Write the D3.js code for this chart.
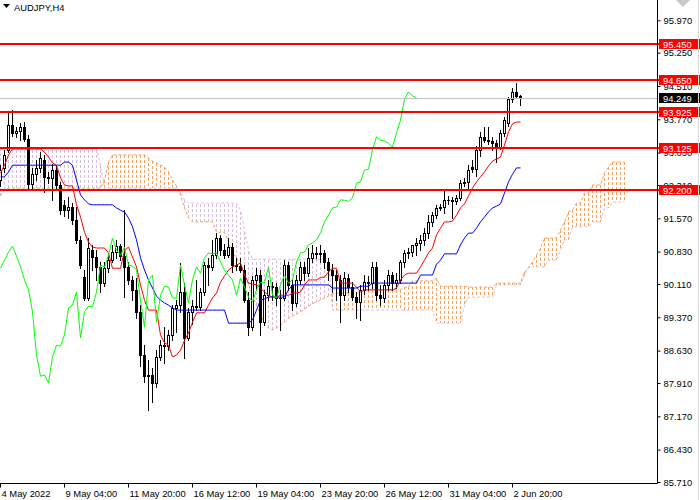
<!DOCTYPE html>
<html>
<head>
<meta charset="utf-8">
<script src="https://cdn.jsdelivr.net/npm/d3@7"></script>
<style>
body { margin: 0; background: #fff; }
svg { display: block; font-family: "Liberation Sans", Arial, sans-serif; }
</style>
</head>
<body>
<script>
// AUDJPY H4 with Ichimoku
var symbol = "AUDJPY,H4";

var openP = [
  92.42, 92.69, 93.09, 93.64, 93.47, 93.51, 93.60, 93.33, 92.33, 92.55,
  92.69, 92.87, 92.49, 92.47, 92.64, 92.31, 91.87, 91.75, 91.82, 91.53,
  91.09, 90.26, 89.80, 90.86, 90.71, 90.49, 90.13, 90.46, 90.64, 90.82,
  90.95, 90.73, 90.49, 90.20, 89.98, 89.49, 88.53, 88.06, 88.09, 87.91,
  88.49, 88.75, 88.73, 88.98, 89.58, 89.64, 89.93, 88.91, 89.49, 89.62,
  89.60, 89.93, 90.53, 90.49, 90.75, 91.13, 90.86, 90.75, 90.93, 90.53,
  90.51, 90.42, 89.75, 89.15, 90.20, 90.31, 89.26, 89.86, 90.06, 90.04,
  89.80, 89.79, 90.53, 90.09, 89.69, 90.20, 90.49, 90.35, 90.69, 90.80,
  90.78, 90.80, 90.60, 90.42, 90.31, 90.20, 89.86, 90.24, 90.04, 89.82,
  89.71, 89.98, 90.15, 90.13, 90.49, 89.86, 89.80, 90.09, 90.31, 90.13,
  90.20, 90.60, 90.80, 90.82, 90.98, 91.02, 91.09, 91.24, 91.49, 91.64,
  91.80, 91.82, 91.98, 91.97, 91.95, 92.02, 92.35, 92.38, 92.71, 92.66,
  93.09, 93.38, 93.31, 93.29, 93.24, 93.15, 93.47, 93.69, 94.22, 94.38,
  94.29
];
var highP = [
  92.75, 93.09, 93.93, 93.98, 93.60, 93.69, 93.71, 93.42, 92.69, 92.87,
  93.04, 92.98, 92.60, 92.78, 92.73, 92.38, 91.98, 92.04, 91.91, 91.82,
  91.18, 90.42, 91.13, 90.98, 90.86, 90.60, 90.60, 90.75, 90.98, 91.09,
  91.00, 91.75, 90.60, 90.29, 90.24, 89.64, 88.75, 88.42, 88.24, 88.64,
  88.86, 89.15, 89.09, 89.64, 89.75, 90.58, 90.13, 89.58, 89.75, 90.20,
  90.02, 90.60, 90.69, 91.09, 91.24, 91.20, 91.00, 91.13, 91.02, 90.69,
  90.69, 90.53, 89.93, 90.29, 90.46, 90.42, 89.98, 90.20, 90.15, 90.13,
  89.98, 90.64, 90.60, 90.20, 90.31, 90.60, 90.60, 90.91, 90.98, 90.93,
  90.98, 90.86, 90.69, 90.55, 90.42, 90.31, 90.38, 90.33, 90.15, 89.93,
  90.09, 90.31, 90.29, 90.60, 90.60, 90.09, 90.20, 90.42, 90.38, 90.35,
  90.64, 90.86, 90.91, 90.98, 91.13, 91.20, 91.35, 91.64, 91.71, 91.87,
  91.89, 92.20, 92.07, 92.04, 92.09, 92.42, 92.47, 92.75, 92.87, 93.18,
  93.49, 93.60, 93.60, 93.38, 93.31, 93.53, 93.82, 94.26, 94.47, 94.58,
  94.31
];
var lowP = [
  92.29, 92.60, 93.04, 93.40, 93.38, 93.31, 93.29, 92.24, 92.20, 92.42,
  92.60, 92.15, 92.35, 91.98, 92.24, 91.66, 91.62, 91.58, 91.44, 91.02,
  90.46, 89.75, 89.75, 90.42, 90.20, 89.93, 90.06, 90.38, 90.60, 90.69,
  90.64, 89.82, 90.11, 89.75, 89.35, 88.29, 87.93, 87.31, 87.49, 87.82,
  88.42, 88.35, 88.64, 88.86, 89.04, 89.49, 88.46, 88.86, 89.22, 89.53,
  89.53, 89.86, 90.09, 90.42, 90.69, 90.75, 90.69, 90.71, 90.38, 90.42,
  90.38, 89.71, 88.98, 89.09, 89.98, 88.98, 89.20, 89.75, 89.75, 89.64,
  89.09, 89.75, 89.98, 89.53, 89.62, 90.11, 90.20, 90.29, 90.60, 90.69,
  90.60, 90.46, 90.20, 89.93, 89.75, 89.26, 89.75, 89.93, 89.75, 89.35,
  89.31, 89.89, 89.98, 90.02, 89.75, 89.64, 89.71, 89.98, 89.98, 90.02,
  90.13, 90.49, 90.69, 90.73, 90.75, 90.86, 90.98, 91.13, 91.40, 91.58,
  91.75, 91.69, 91.89, 91.58, 91.89, 91.98, 92.29, 92.24, 92.60, 92.51,
  92.95, 93.27, 93.22, 93.09, 92.82, 93.11, 93.40, 93.62, 94.15, 94.24,
  94.09
];
var closeP = [
  92.64, 92.98, 93.64, 93.47, 93.51, 93.60, 93.33, 92.33, 92.55, 92.69,
  92.91, 92.49, 92.47, 92.64, 92.31, 91.75, 91.75, 91.82, 91.53, 91.09,
  90.53, 89.80, 90.91, 90.71, 90.49, 90.13, 90.46, 90.64, 90.82, 90.95,
  90.73, 90.49, 90.20, 89.98, 89.49, 88.53, 88.06, 88.09, 87.91, 88.49,
  88.75, 88.73, 88.98, 89.58, 89.64, 89.93, 88.91, 89.49, 89.62, 89.60,
  89.93, 90.53, 90.49, 90.75, 91.13, 90.86, 90.75, 90.93, 90.53, 90.51,
  90.42, 89.75, 89.15, 90.20, 90.31, 89.26, 89.86, 90.06, 90.04, 89.80,
  89.79, 90.53, 90.09, 89.69, 90.20, 90.49, 90.35, 90.69, 90.80, 90.78,
  90.80, 90.60, 90.42, 90.31, 90.20, 89.86, 90.24, 90.04, 89.82, 89.71,
  89.98, 90.15, 90.13, 90.49, 89.86, 89.80, 90.09, 90.31, 90.13, 90.20,
  90.60, 90.80, 90.82, 90.98, 91.02, 91.09, 91.24, 91.49, 91.64, 91.80,
  91.82, 91.98, 91.97, 91.95, 92.02, 92.35, 92.38, 92.64, 92.66, 93.09,
  93.38, 93.31, 93.29, 93.24, 93.15, 93.47, 93.75, 94.22, 94.38, 94.29,
  94.249
];

var tenkan = [
  92.58, 92.75, 92.98, 93.11, 93.11, 93.11, 93.11, 93.11, 93.11, 93.11,
  93.11, 93.04, 92.93, 92.80, 92.75, 92.47, 92.31, 92.29, 92.29, 91.87,
  91.60, 91.26, 91.04, 90.93, 90.91, 90.91, 90.91, 90.80, 90.46, 90.46,
  90.46, 90.86, 90.93, 90.71, 90.49, 90.09, 89.75, 89.53, 89.53, 89.53,
  88.98, 88.80, 88.75, 88.49, 88.53, 88.64, 88.86, 89.02, 89.26, 89.47,
  89.47, 89.47, 89.64, 89.80, 89.91, 90.15, 90.29, 90.42, 90.49, 90.53,
  90.58, 90.31, 90.13, 90.11, 90.09, 90.02, 89.93, 89.86, 89.82, 89.82,
  89.86, 89.86, 89.86, 89.91, 89.91, 89.93, 90.09, 90.20, 90.20, 90.20,
  90.26, 90.26, 90.38, 90.46, 90.46, 90.13, 90.13, 90.13, 90.13, 90.04,
  89.93, 89.98, 89.98, 89.98, 89.98, 89.98, 89.98, 89.98, 89.98, 90.02,
  90.20, 90.31, 90.35, 90.35, 90.35, 90.49, 90.64, 90.80, 90.91, 91.20,
  91.35, 91.49, 91.49, 91.51, 91.64, 91.80, 91.89, 92.07, 92.24, 92.38,
  92.49, 92.60, 92.73, 92.84, 92.89, 92.93, 93.20, 93.49, 93.67, 93.71,
  93.71
];
var kijun = [
  92.49, 92.49, 92.60, 92.75, 92.75, 92.75, 92.75, 92.75, 92.75, 92.75,
  92.75, 92.75, 92.75, 92.75, 92.75, 92.75, 92.82, 92.82, 92.75, 92.42,
  92.09, 91.98, 91.89, 91.87, 91.87, 91.87, 91.87, 91.87, 91.87, 91.80,
  91.75, 91.71, 91.58, 91.38, 91.09, 90.69, 90.42, 90.20, 90.02, 89.84,
  89.75, 89.69, 89.64, 89.58, 89.53, 89.53, 89.53, 89.53, 89.53, 89.53,
  89.53, 89.53, 89.53, 89.53, 89.53, 89.53, 89.53, 89.24, 89.24, 89.24,
  89.24, 89.24, 89.24, 89.31, 89.53, 89.75, 89.78, 89.82, 89.82, 89.82,
  89.82, 89.82, 89.98, 90.09, 90.09, 90.09, 90.09, 90.09, 90.09, 90.09,
  90.09, 90.09, 90.09, 90.02, 90.02, 90.02, 90.02, 90.02, 90.02, 90.02,
  90.06, 90.06, 90.06, 90.13, 90.13, 90.13, 90.13, 90.13, 90.13, 90.13,
  90.13, 90.13, 90.13, 90.13, 90.13, 90.31, 90.31, 90.31, 90.31, 90.55,
  90.64, 90.78, 90.78, 90.78, 90.78, 90.98, 91.13, 91.24, 91.24, 91.35,
  91.49, 91.60, 91.71, 91.80, 91.84, 91.89, 92.13, 92.38, 92.55, 92.69,
  92.69
];
// senkou spans, already shifted 26 bars forward (157 values)
var spanA = [
  92.07, 92.20, 92.24, 92.24, 92.24, 92.24, 92.24, 92.24, 92.24, 92.24,
  92.24, 92.24, 92.24, 92.24, 92.24, 92.24, 92.24, 92.24, 92.24, 92.24,
  92.24, 92.24, 92.24, 92.24, 92.24, 92.24, 92.42, 92.82, 92.98, 92.98,
  92.98, 92.98, 92.98, 92.98, 92.98, 92.98, 92.98, 92.91, 92.84, 92.80,
  92.75, 92.71, 92.60, 92.42, 92.29, 92.09, 91.80, 91.58, 91.49, 91.49,
  91.49, 91.49, 91.49, 91.49, 91.26, 91.26, 91.26, 91.04, 90.82, 90.69,
  90.53, 90.31, 90.09, 89.86, 89.64, 89.42, 89.26, 89.13, 89.09, 89.13,
  89.20, 89.26, 89.35, 89.40, 89.44, 89.49, 89.55, 89.62, 89.67, 89.71,
  89.75, 89.80, 89.84, 89.89, 89.91, 89.91, 89.91, 89.91, 89.91, 89.91,
  89.91, 89.98, 89.98, 89.98, 89.98, 89.98, 89.98, 89.98, 89.98, 89.98,
  89.98, 90.04, 90.04, 90.18, 90.18, 90.18, 90.18, 90.18, 90.18, 90.24,
  90.06, 90.06, 90.06, 90.06, 90.06, 90.06, 90.06, 90.04, 90.04, 90.04,
  90.04, 90.04, 90.04, 90.04, 90.13, 90.13, 90.13, 90.13, 90.13, 90.13,
  90.13, 90.38, 90.46, 90.60, 90.75, 90.91, 91.13, 91.13, 91.13, 91.13,
  91.31, 91.49, 91.71, 91.75, 91.91, 91.91, 92.13, 92.13, 92.31, 92.31,
  92.31, 92.58, 92.71, 92.82, 92.82, 92.82, 92.82
];
var spanB = [
  93.11, 93.11, 93.11, 93.11, 93.11, 93.11, 93.11, 93.11, 93.11, 93.11,
  93.11, 93.11, 93.11, 93.11, 93.11, 93.11, 93.11, 93.11, 93.11, 93.11,
  93.11, 93.11, 93.11, 93.11, 93.11, 92.75, 92.24, 92.24, 92.24, 92.24,
  92.24, 92.24, 92.24, 92.24, 92.24, 92.24, 92.24, 92.24, 92.24, 92.24,
  92.24, 92.24, 92.24, 92.24, 92.24, 92.15, 91.98, 91.91, 91.91, 91.91,
  91.91, 91.91, 91.91, 91.91, 91.91, 91.91, 91.91, 91.91, 91.91, 91.91,
  91.75, 91.31, 90.86, 90.66, 90.66, 90.66, 90.66, 90.66, 90.66, 90.66,
  90.66, 90.66, 90.66, 90.66, 90.66, 90.66, 90.66, 90.66, 90.66, 90.66,
  90.66, 90.66, 90.66, 89.53, 89.53, 89.53, 89.53, 89.53, 89.53, 89.53,
  89.53, 89.53, 89.53, 89.53, 89.53, 89.53, 89.53, 89.53, 89.53, 89.53,
  89.53, 89.53, 89.53, 89.53, 89.53, 89.53, 89.53, 89.53, 89.53, 89.24,
  89.24, 89.24, 89.24, 89.24, 89.24, 89.24, 89.64, 89.82, 89.82, 89.82,
  89.82, 89.82, 89.82, 89.82, 90.09, 90.09, 90.09, 90.09, 90.09, 90.09,
  90.09, 90.31, 90.49, 90.49, 90.49, 90.49, 90.49, 90.64, 90.64, 90.64,
  90.86, 91.09, 91.09, 91.38, 91.38, 91.38, 91.38, 91.38, 91.49, 91.49,
  91.49, 91.80, 91.80, 91.93, 91.93, 91.93, 91.93
];

var levels = [95.450, 94.650, 93.925, 93.125, 92.200];
var bid = 94.249;
var priceTicks = [95.970, 95.250, 94.510, 93.770, 93.030, 92.310, 91.570, 90.830,
  90.110, 89.370, 88.630, 87.910, 87.170, 86.430, 85.710];
var timeBars = [0, 16, 32, 48, 64, 80, 96, 112, 128];
var timeLabels = ["4 May 2022", "9 May 04:00", "11 May 20:00", "16 May 12:00",
  "19 May 04:00", "23 May 20:00", "26 May 12:00", "31 May 04:00", "2 Jun 20:00"];

var width = 700, height = 500,
    plotW = 657, plotH = 483,
    shift = 26;

var svg = d3.select("body").append("svg")
    .attr("width", width)
    .attr("height", height);

var x = d3.scaleLinear().domain([0, 164.25]).range([0, plotW]);
var y = d3.scaleLinear().domain([85.71, 95.97]).range([482, 20.3]);
var px = (i) => Math.round(x(i));

svg.append("clipPath").attr("id", "plot")
  .append("rect").attr("width", plotW).attr("height", plotH);

var plot = svg.append("g").attr("clip-path", "url(#plot)");

// kumo hatching, one dotted stroke per bar
plot.append("g")
    .attr("stroke-width", 1)
    .attr("stroke-dasharray", "3,2")
    .attr("shape-rendering", "crispEdges")
  .selectAll("line")
  .data(spanA)
  .join("line")
    .attr("x1", (d, i) => px(i) + 0.5)
    .attr("x2", (d, i) => px(i) + 0.5)
    .attr("y1", (d) => y(d))
    .attr("y2", (d, i) => y(spanB[i]))
    .attr("stroke", (d, i) => d >= spanB[i] ? "#F4A460" : "#D8BFD8");

var line = d3.line()
    .x((d, i) => px(i) + 0.5)
    .y((d) => y(d));

plot.append("path").datum(spanB)
    .attr("fill", "none").attr("stroke", "#D8BFD8")
    .attr("stroke-dasharray", "3,2").attr("d", line);
plot.append("path").datum(spanA)
    .attr("fill", "none").attr("stroke", "#F4A460")
    .attr("stroke-dasharray", "3,2").attr("d", line);

// candles
var bars = d3.range(closeP.length);
var candles = plot.append("g").attr("shape-rendering", "crispEdges");

candles.selectAll("line")
  .data(bars)
  .join("line")
    .attr("x1", (i) => px(i) + 0.5)
    .attr("x2", (i) => px(i) + 0.5)
    .attr("y1", (i) => Math.round(y(highP[i])))
    .attr("y2", (i) => Math.round(y(lowP[i])) + 1)
    .attr("stroke", "#000");

candles.selectAll("rect")
  .data(bars)
  .join("rect")
    .each(function (i) {
      var yo = Math.round(y(openP[i])),
          yc = Math.round(y(closeP[i])),
          r = d3.select(this);
      if (yc < yo) {
        r.attr("x", px(i) - 0.5).attr("width", 2)
         .attr("y", yc + 0.5).attr("height", yo - yc)
         .attr("fill", "#fff").attr("stroke", "#000");
      } else {
        r.attr("x", px(i) - 1).attr("width", 3)
         .attr("y", yo).attr("height", Math.max(1, yc - yo + 1))
         .attr("fill", "#000");
      }
    });

// tenkan, kijun, chikou
plot.append("path").datum(tenkan)
    .attr("fill", "none").attr("stroke", "#FF0000").attr("d", line);
plot.append("path").datum(kijun)
    .attr("fill", "none").attr("stroke", "#0000FF").attr("d", line);
plot.append("path").datum(closeP.slice(shift))
    .attr("fill", "none").attr("stroke", "#00FF00").attr("d", line);

// horizontal levels and bid line
svg.append("line")
    .attr("x1", 0).attr("x2", plotW)
    .attr("y1", Math.round(y(bid)) + 0.5).attr("y2", Math.round(y(bid)) + 0.5)
    .attr("stroke", "#C0C0C0");

svg.append("g")
  .selectAll("line")
  .data(levels)
  .join("line")
    .attr("x1", 0).attr("x2", 660)
    .attr("y1", (d) => Math.round(y(d)))
    .attr("y2", (d) => Math.round(y(d)))
    .attr("stroke", "#FF0000")
    .attr("stroke-width", 2);

// frame
svg.append("path")
    .attr("d", "M0," + (plotH + 0.5) + "H" + (plotW + 0.5) + "V0")
    .attr("fill", "none").attr("stroke", "#000");

// price axis
var yAxis = d3.axisRight(y)
    .tickValues(priceTicks)
    .tickFormat(d3.format(".3f"))
    .tickSize(3)
    .tickSizeOuter(0);

svg.append("g")
    .attr("transform", "translate(" + (plotW + 0.5) + ",0)")
    .call(yAxis)
    .call((g) => g.select(".domain").remove())
    .call((g) => g.selectAll("text")
      .attr("font-family", "Liberation Sans, Arial, sans-serif")
      .attr("font-size", "9.4px")
      .attr("fill", "#000"));

// time axis
var xAxis = d3.axisBottom(x)
    .tickValues(timeBars)
    .tickFormat((d, i) => timeLabels[i])
    .tickSize(4)
    .tickSizeOuter(0);

svg.append("g")
    .attr("transform", "translate(0," + (plotH + 0.5) + ")")
    .call(xAxis)
    .call((g) => g.select(".domain").remove())
    .call((g) => g.selectAll("text")
      .attr("text-anchor", "start")
      .attr("x", 1)
      .attr("font-family", "Liberation Sans, Arial, sans-serif")
      .attr("font-size", "9.4px")
      .attr("fill", "#000"));

// price tags on the scale
var tags = levels.map((v) => ({ v: v, bg: "#FF0000" }))
    .concat([{ v: bid, bg: "#000" }]);

var tag = svg.append("g")
  .selectAll("g")
  .data(tags)
  .join("g")
    .attr("transform", (d) => "translate(659," + Math.round(y(d.v)) + ")");

tag.append("rect")
    .attr("x", 0).attr("y", -5)
    .attr("width", 42).attr("height", 10)
    .attr("fill", (d) => d.bg);

tag.append("text")
    .attr("x", 4).attr("y", 3.5)
    .attr("fill", "#fff")
    .attr("font-size", "9.4px")
    .text((d) => d.v.toFixed(3));

// title and chart shift marker
svg.append("path")
    .attr("d", "M3,4H10L6.5,8Z")
    .attr("fill", "#000");

svg.append("text")
    .attr("x", 14).attr("y", 11)
    .attr("font-size", "9.4px")
    .attr("fill", "#000")
    .text(symbol);

svg.append("path")
    .attr("d", "M676,0H690L683,7Z")
    .attr("fill", "#C8C8C8");

svg.append("line")
    .attr("x1", 698.5).attr("x2", 698.5)
    .attr("y1", 0).attr("y2", height)
    .attr("stroke", "#D8D8D8");
</script>
</body>
</html>
